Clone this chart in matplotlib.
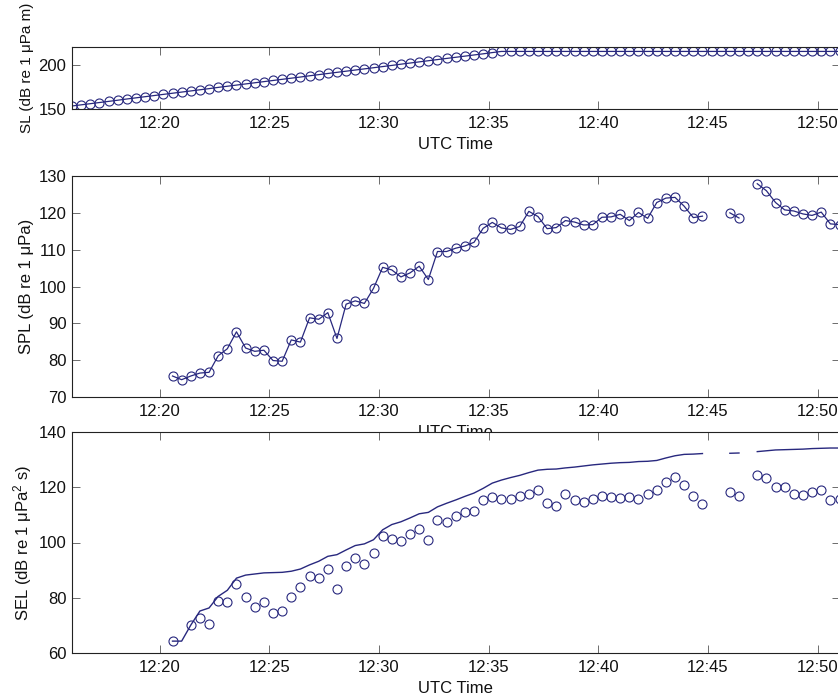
import numpy as np
import pandas as pd
import matplotlib
matplotlib.use("Agg")
import matplotlib.pyplot as plt
import matplotlib.dates as mdates

plt.rcParams['font.family'] = ['Liberation Sans', 'DejaVu Sans']
plt.rcParams['mathtext.fontset'] = 'custom'
plt.rcParams['mathtext.rm'] = 'Liberation Sans'
plt.rcParams['mathtext.it'] = 'Liberation Sans:italic'

# source level, one value every 25 s from 12:16:00
sl_start = "2000-01-01 12:16:00"
sl = [153.4, 154.7, 156.0, 157.3, 158.6, 159.9, 161.3, 162.6, 163.9, 165.2,
      166.5, 167.8, 169.1, 170.4, 171.7, 173.0, 174.4, 175.7, 177.0, 178.3,
      179.6, 180.9, 182.2, 183.5, 184.8, 186.1, 187.5, 188.8, 190.1, 191.4,
      192.7, 194.0, 195.3, 196.6, 197.9, 199.2, 200.6, 201.9, 203.2, 204.5,
      205.8, 207.1, 208.4, 209.7, 211.0, 212.3, 213.7, 215.0,
      215.0, 215.0, 215.0, 215.0, 215.0, 215.0, 215.0, 215.0, 215.0, 215.0,
      215.0, 215.0, 215.0, 215.0, 215.0, 215.0, 215.0, 215.0, 215.0, 215.0,
      215.0, 215.0, 215.0, 215.0, 215.0, 215.0, 215.0, 215.0, 215.0, 215.0,
      215.0, 215.0, 215.0, 215.0, 215.0, 215.0, 215.0]

# received levels, one value every 25 s from 12:20:35
rl_start = "2000-01-01 12:20:35"
nan = np.nan
spl = [75.7, 74.7, 75.7, 76.5, 76.7, 81.2, 83.1, 87.7, 83.3, 82.4,
       82.7, 79.9, 79.7, 85.5, 84.9, 91.5, 91.1, 92.9, 85.9, 95.2,
       96.1, 95.4, 99.5, 105.2, 104.5, 102.6, 103.7, 105.5, 101.9, 109.5,
       109.5, 110.4, 111.0, 112.0, 115.8, 117.4, 115.9, 115.5, 116.3, 120.4,
       119.0, 115.7, 116.0, 117.9, 117.5, 116.7, 116.8, 118.8, 118.9, 119.6,
       117.9, 120.1, 118.5, 122.8, 124.0, 124.2, 121.8, 118.7, 119.1, nan,
       nan, 120.0, 118.6, nan, 127.9, 126.0, 122.8, 120.8, 120.5, 119.7,
       119.3, 120.2, 117.0, 116.8]
sel = [64.3, nan, 70.3, 72.7, 70.5, 78.8, 78.5, 85.0, 80.3, 76.8,
       78.6, 74.4, 75.1, 80.3, 83.8, 87.9, 87.3, 90.5, 83.2, 91.6,
       94.4, 92.3, 96.3, 102.2, 101.1, 100.4, 103.0, 104.9, 100.8, 108.3,
       107.4, 109.7, 111.0, 111.5, 115.5, 116.5, 115.7, 115.7, 117.0, 117.6,
       119.0, 114.2, 113.3, 117.6, 115.5, 114.5, 115.6, 116.8, 116.5, 116.2,
       116.4, 115.9, 117.7, 119.1, 121.9, 123.6, 120.8, 116.8, 113.9, nan,
       nan, 118.4, 116.8, nan, 124.4, 123.3, 120.2, 120.1, 117.7, 117.1,
       118.2, 119.1, 115.3, 115.7]
sel_cum = [64.3, 64.3, 70.1, 75.2, 76.3, 80.5, 82.7, 87.1, 88.2, 88.6,
           89.0, 89.1, 89.2, 89.6, 90.4, 91.9, 93.2, 95.0, 95.6, 97.3,
           98.9, 99.5, 101.0, 104.6, 106.5, 107.5, 108.9, 110.4, 110.9, 112.9,
           114.2, 115.4, 116.7, 117.9, 119.6, 121.5, 122.6, 123.5, 124.3, 125.3,
           126.2, 126.5, 126.6, 127.0, 127.3, 127.7, 128.1, 128.4, 128.7, 128.9,
           129.0, 129.3, 129.4, 129.7, 130.6, 131.4, 131.9, 132.0, 132.2, nan,
           nan, 132.3, 132.4, nan, 132.9, 133.2, 133.5, 133.6, 133.7, 133.8,
           134.0, 134.1, 134.2, 134.2]

x_ticks = ["12:20", "12:25", "12:30", "12:35", "12:40", "12:45", "12:50"]
x_range = ["12:16:00", "12:51:00"]

sl_time = pd.date_range(sl_start, periods=len(sl), freq="25s")
rl_time = pd.date_range(rl_start, periods=len(spl), freq="25s")

W, H = 838, 700
navy = "#28287e"


def make_axes(top, bottom, left=72, right=839.5):
    return fig.add_axes([left / W, 1 - bottom / H, (right - left) / W, (bottom - top) / H])


def style(ax, ylim, yticks, ylabel, label_y=0.5, label_size=12, xlabel=True):
    day = "2000-01-01 "
    ax.set_xlim(pd.Timestamp(day + x_range[0]), pd.Timestamp(day + x_range[1]))
    ax.set_xticks([pd.Timestamp(day + t) for t in x_ticks])
    ax.xaxis.set_major_formatter(mdates.DateFormatter("%H:%M"))
    ax.set_ylim(*ylim)
    ax.set_yticks(yticks)
    ax.tick_params(direction="in", length=5.5, width=0.6, color="#555555",
                   labelsize=12, top=True, right=True, labelcolor="#111111")
    ax.tick_params(axis="x", pad=5)
    ax.tick_params(axis="y", pad=4)
    for s in ax.spines.values():
        s.set_linewidth(0.8)
        s.set_color("#222222")
    ax.set_ylabel(ylabel, fontsize=label_size, color="#111111")
    ax.yaxis.set_label_coords(-38 / 767.5, label_y)
    if xlabel:
        ax.set_xlabel("UTC Time", fontsize=12, color="#111111")
        h = ax.get_position().height * H
        ax.xaxis.set_label_coords(0.5, -28 / h)


fig = plt.figure(figsize=(W / 100, H / 100), dpi=100)

ax1 = make_axes(47, 109)
ax1.plot(sl_time, sl, "-o", color=navy, lw=0.9, ms=6.5, mfc="none", mew=0.8)
style(ax1, (150, 220), [150, 200], "SL (dB re 1 \u03bcPa m)",
      label_y=(109 - 68) / 62, label_size=11)

ax2 = make_axes(176, 397)
ax2.plot(rl_time, spl, "-o", color=navy, lw=0.9, ms=6.5, mfc="none", mew=0.8)
style(ax2, (70, 130), range(70, 131, 10), "SPL (dB re 1 \u03bcPa)")

ax3 = make_axes(432, 653)
ax3.plot(rl_time, sel_cum, "-", color=navy, lw=1.0)
ax3.plot(rl_time, sel, "o", color=navy, ms=6.5, mfc="none", mew=0.8)
style(ax3, (60, 140), range(60, 141, 20), "SEL (dB re 1 \u03bcPa$^2$ s)")

fig.savefig("out.png", dpi=100)
